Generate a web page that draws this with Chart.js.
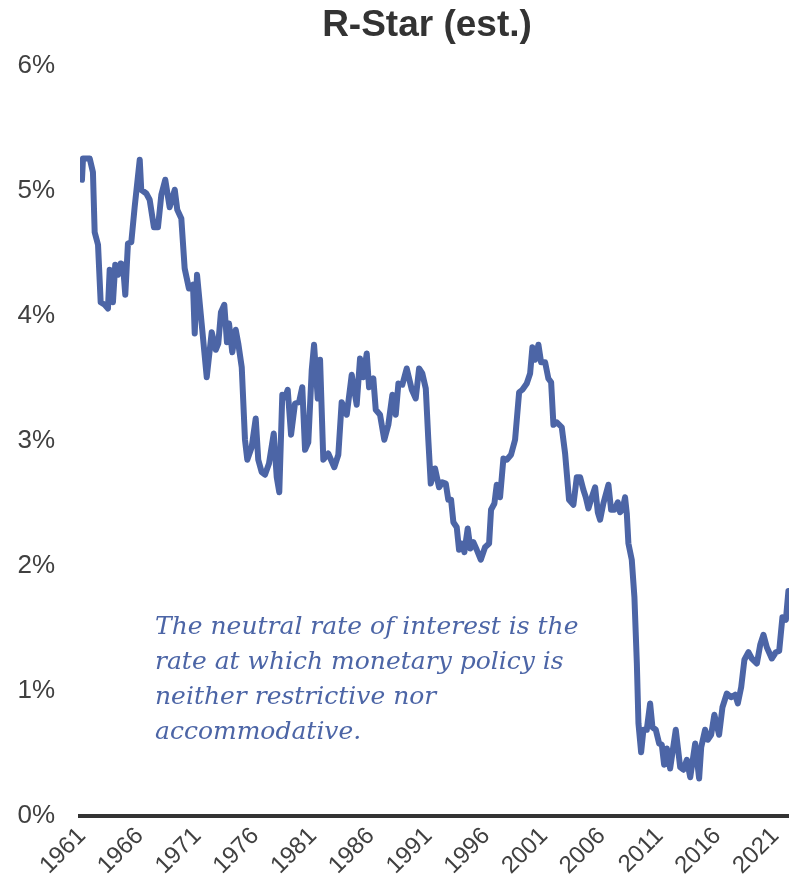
<!DOCTYPE html>
<html>
<head>
<meta charset="utf-8">
<title>R-Star (est.)</title>
<script src="https://cdn.jsdelivr.net/npm/chart.js@4.4.1/dist/chart.umd.min.js"></script>
<style>
    html, body { margin: 0; padding: 0; background: #ffffff; }
    #wrap { width: 789px; height: 889px; position: relative; }
</style>
</head>
<body>
<div id="wrap"><canvas id="rstarChart" width="789" height="889"></canvas></div>
<script>
// dates (decimal years)
const years = [
    1961.00, 1961.09, 1961.29, 1961.67, 1961.95, 1962.10, 1962.39, 1962.62, 1962.97, 1963.25,
    1963.40, 1963.68, 1963.88, 1964.12, 1964.35, 1964.55, 1964.75, 1964.98, 1965.27, 1965.56,
    1966.00, 1966.13, 1966.57, 1966.86, 1967.23, 1967.58, 1967.87, 1968.21, 1968.59, 1969.03,
    1969.25, 1969.60, 1969.89, 1970.26, 1970.61, 1970.76, 1970.96, 1971.36, 1971.80, 1972.23,
    1972.58, 1972.80, 1973.03, 1973.32, 1973.55, 1973.73, 1974.01, 1974.31, 1974.53, 1974.83,
    1975.11, 1975.31, 1975.69, 1976.04, 1976.26, 1976.56, 1976.84, 1977.19, 1977.60, 1977.86,
    1978.08, 1978.34, 1978.58, 1978.81, 1979.10, 1979.44, 1979.79, 1980.07, 1980.31, 1980.59,
    1980.89, 1981.09, 1981.41, 1981.61, 1981.89, 1982.32, 1982.84, 1983.19, 1983.48, 1983.92,
    1984.35, 1984.78, 1985.07, 1985.35, 1985.65, 1985.85, 1986.22, 1986.43, 1986.80, 1987.17,
    1987.52, 1987.87, 1988.16, 1988.39, 1988.73, 1989.11, 1989.55, 1989.89, 1990.18, 1990.46,
    1990.76, 1990.98, 1991.19, 1991.56, 1991.91, 1992.19, 1992.49, 1992.71, 1992.95, 1993.15,
    1993.44, 1993.64, 1993.87, 1994.10, 1994.39, 1994.62, 1994.88, 1995.17, 1995.52, 1995.89,
    1996.24, 1996.41, 1996.70, 1996.90, 1997.19, 1997.48, 1997.77, 1998.14, 1998.49, 1998.84,
    1999.12, 1999.50, 1999.79, 1999.99, 2000.22, 2000.51, 2000.74, 2001.09, 2001.37, 2001.61,
    2001.81, 2002.10, 2002.53, 2002.82, 2003.16, 2003.54, 2003.83, 2004.12, 2004.40, 2004.61,
    2004.84, 2005.13, 2005.42, 2005.65, 2005.85, 2006.13, 2006.57, 2006.80, 2007.09, 2007.38,
    2007.58, 2007.78, 2008.01, 2008.16, 2008.30, 2008.59, 2008.82, 2009.03, 2009.17, 2009.40,
    2009.60, 2009.89, 2010.18, 2010.38, 2010.67, 2010.96, 2011.19, 2011.39, 2011.63, 2011.91,
    2012.40, 2012.78, 2013.06, 2013.36, 2013.65, 2014.08, 2014.42, 2014.60, 2014.94, 2015.17,
    2015.46, 2015.74, 2016.15, 2016.44, 2016.82, 2017.19, 2017.54, 2017.77, 2018.06, 2018.34,
    2018.69, 2018.98, 2019.42, 2019.71, 2019.99, 2020.28, 2020.71, 2021.06, 2021.35, 2021.63,
    2021.93, 2022.15
];

// R-Star estimate, percent
const rstar = [
    5.09, 5.26, 5.26, 5.26, 5.15, 4.67, 4.57, 4.11, 4.09, 4.06,
    4.37, 4.11, 4.41, 4.33, 4.42, 4.41, 4.17, 4.58, 4.59, 4.87,
    5.25, 5.01, 4.98, 4.93, 4.71, 4.71, 4.97, 5.09, 4.87, 5.01,
    4.85, 4.78, 4.38, 4.22, 4.25, 3.86, 4.33, 3.94, 3.51, 3.87,
    3.73, 3.78, 4.03, 4.09, 3.79, 3.94, 3.71, 3.89, 3.78, 3.59,
    3.01, 2.85, 2.95, 3.18, 2.85, 2.75, 2.73, 2.82, 3.06, 2.71,
    2.59, 3.37, 3.35, 3.41, 3.05, 3.30, 3.31, 3.43, 2.93, 2.99,
    3.57, 3.77, 3.34, 3.65, 2.85, 2.90, 2.79, 2.89, 3.31, 3.21,
    3.53, 3.29, 3.66, 3.51, 3.70, 3.43, 3.50, 3.25, 3.21, 3.01,
    3.13, 3.37, 3.21, 3.46, 3.45, 3.58, 3.41, 3.34, 3.58, 3.54,
    3.42, 3.01, 2.66, 2.78, 2.63, 2.67, 2.66, 2.53, 2.53, 2.35,
    2.31, 2.13, 2.18, 2.11, 2.30, 2.14, 2.19, 2.13, 2.05, 2.15,
    2.18, 2.45, 2.50, 2.65, 2.55, 2.86, 2.85, 2.89, 3.01, 3.39,
    3.41, 3.46, 3.54, 3.75, 3.65, 3.77, 3.63, 3.63, 3.50, 3.47,
    3.13, 3.15, 3.11, 2.90, 2.53, 2.49, 2.71, 2.71, 2.61, 2.55,
    2.46, 2.55, 2.63, 2.43, 2.37, 2.50, 2.65, 2.45, 2.45, 2.51,
    2.43, 2.45, 2.55, 2.42, 2.18, 2.05, 1.75, 1.22, 0.74, 0.51,
    0.69, 0.69, 0.90, 0.71, 0.69, 0.58, 0.57, 0.41, 0.54, 0.38,
    0.69, 0.39, 0.37, 0.45, 0.31, 0.58, 0.30, 0.55, 0.69, 0.61,
    0.65, 0.81, 0.65, 0.87, 0.98, 0.95, 0.97, 0.90, 1.03, 1.25,
    1.31, 1.26, 1.22, 1.37, 1.45, 1.35, 1.26, 1.31, 1.32, 1.59,
    1.57, 1.80
];

const tickYears = [1961, 1966, 1971, 1976, 1981, 1986, 1991, 1996, 2001, 2006, 2011, 2016, 2021];
const yTicks = [0, 1, 2, 3, 4, 5, 6];

const titleText = 'R-Star (est.)';
const noteLines = [
    'The neutral rate of interest is the',
    'rate at which monetary policy is',
    'neither restrictive nor',
    'accommodative.'
];

const lineBlue = '#4c65a6';
const axisGrey = '#333333';
const labelGrey = '#404040';

// title + italic note, drawn straight on the canvas
const textPlugin = {
    id: 'textPlugin',
    afterDraw(chart) {
        const ctx = chart.ctx;
        const area = chart.chartArea;
        ctx.save();
        ctx.fillStyle = axisGrey;
        ctx.font = 'bold 37px "Liberation Sans", Arial, sans-serif';
        ctx.textAlign = 'center';
        ctx.textBaseline = 'middle';
        ctx.fillText(titleText, 427, 26);

        ctx.fillStyle = lineBlue;
        ctx.font = 'italic 25px "DejaVu Serif", Georgia, serif';
        ctx.textAlign = 'left';
        noteLines.forEach((line, i) => {
            ctx.fillText(line, area.left + 75, 627 + i * 35);
        });
        ctx.restore();
    }
};

const points = years.map((yr, i) => ({ x: yr, y: rstar[i] }));

new Chart(document.getElementById('rstarChart'), {
    type: 'line',
    data: {
        datasets: [{
            label: 'R-Star',
            data: points,
            borderColor: lineBlue,
            borderWidth: 6,
            borderJoinStyle: 'round',
            borderCapStyle: 'round',
            pointRadius: 0,
            tension: 0,
            fill: false
        }]
    },
    options: {
        responsive: false,
        animation: false,
        devicePixelRatio: 1,
        layout: { padding: { top: 66, left: 0, right: 0, bottom: 0 } },
        plugins: {
            legend: { display: false },
            title: { display: false },
            tooltip: { enabled: false }
        },
        scales: {
            x: {
                type: 'linear',
                min: 1960.83,
                max: 2022.2,
                afterBuildTicks: (axis) => { axis.ticks = tickYears.map(v => ({ value: v })); },
                afterFit: (axis) => {
                    axis.height = 73;
                    // let the plot run to the right edge like the original
                    axis.paddingRight = 0;
                    axis.paddingLeft = 0;
                },
                grid: { display: false, drawTicks: false },
                border: { display: true, color: axisGrey, width: 4 },
                ticks: {
                    minRotation: 45,
                    maxRotation: 45,
                    padding: 6,
                    color: labelGrey,
                    font: { family: '"Liberation Sans", Arial, sans-serif', size: 24 },
                    callback: (v) => String(v)
                }
            },
            y: {
                min: 0,
                max: 6,
                afterBuildTicks: (axis) => { axis.ticks = yTicks.map(v => ({ value: v })); },
                afterFit: (axis) => { axis.width = 80; },
                grid: { display: false, drawTicks: false },
                border: { display: false },
                ticks: {
                    padding: 25,
                    color: labelGrey,
                    font: { family: '"Liberation Sans", Arial, sans-serif', size: 26 },
                    callback: (v) => v + '%'
                }
            }
        }
    },
    plugins: [textPlugin]
});
</script>
</body>
</html>
